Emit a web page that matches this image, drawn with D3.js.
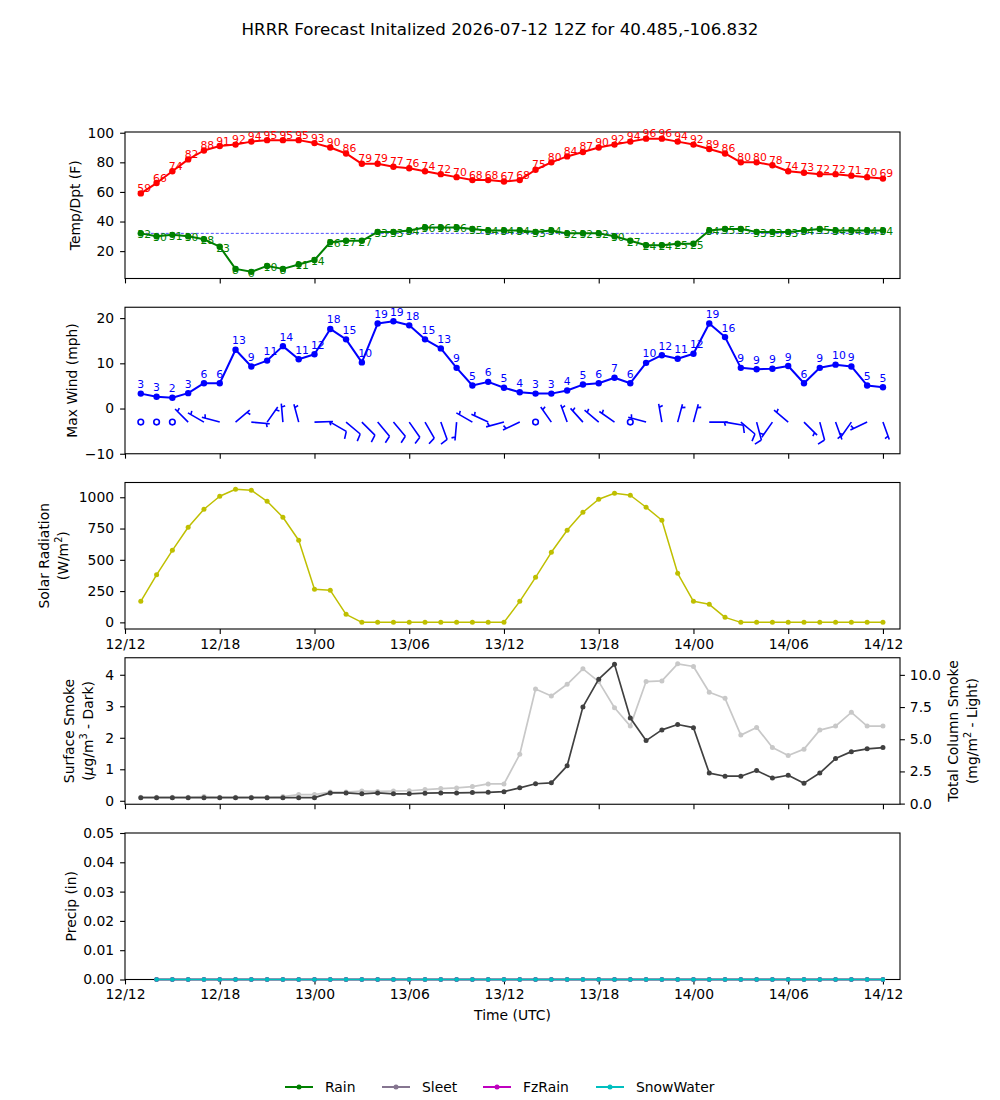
<!DOCTYPE html>
<html>
<head>
<meta charset="utf-8">
<script src="https://cdn.jsdelivr.net/npm/d3@7"></script>
<style>
body { margin: 0; background: #fff; }
svg text { font-family: "DejaVu Sans", sans-serif; }
</style>
</head>
<body>
<div id="chart"></div>
<script>
// forecast init and hourly steps (hours after init)
const initTime = Date.UTC(2026, 6, 12, 12)
const fcstHours = d3.range(1, 49)
const precipHours = d3.range(2, 49)

const temps = [59,66,74,82,88,91,92,94,95,95,95,93,90,86,79,79,77,76,74,72,70,68,68,67,
    68,75,80,84,87,90,92,94,96,96,94,92,89,86,80,80,78,74,73,72,72,71,70,69]
const dewpts = [32,30,31,30,28,23,8,6,10,8,11,14,26,27,27,33,33,34,36,36,36,35,34,
    34,34,33,34,32,32,32,30,27,24,24,25,25,34,35,35,33,33,33,34,35,34,34,34,34]

const maxWind = [3.3,2.6,2.4,3.4,5.6,5.6,13.0,9.3,10.6,13.8,10.9,12.0,17.6,15.3,10.2,18.8,19.3,18.4,15.3,13.3,9.0,5.1,5.9,4.6,
    3.6,3.3,3.3,4.0,5.3,5.6,6.8,5.6,10.1,11.8,11.0,12.1,18.8,15.8,9.0,8.7,8.8,9.4,5.6,9.0,9.7,9.3,5.1,4.7]
// 10 m wind barbs: direction (deg from) and speed (kt)
const barbDir = [0,0,0,315,300,285,50,95,35,355,345,88,120,130,135,140,140,145,150,160,185,300,295,255,
    245,0,325,340,318,310,305,0,285,350,15,15,90,100,130,165,215,310,135,165,160,215,245,160]
const barbSpd = [0,0,0,5,5,5,5,5,5,5,5,5,10,10,10,10,10,10,10,10,5,5,5,5,
    5,0,5,5,5,5,5,0,5,5,5,5,5,10,10,10,5,5,5,10,5,5,5,5]

const solar = [168,380,576,760,904,1008,1064,1056,968,840,656,264,256,64,0,0,0,0,0,0,0,0,0,0,
    168,360,560,736,880,984,1032,1016,920,816,392,168,144,40,0,0,0,0,0,0,0,0,0,0]

const sfcSmoke = [0.1,0.1,0.1,0.1,0.1,0.1,0.1,0.1,0.1,0.1,0.1,0.1,
    0.25,0.25,0.22,0.25,0.22,0.22,0.24,0.25,0.25,0.26,0.27,0.29,
    0.41,0.54,0.57,1.11,2.98,3.86,4.33,2.63,1.91,2.25,2.42,2.32,
    0.88,0.78,0.78,0.96,0.72,0.81,0.56,0.88,1.34,1.56,1.65,1.69]
const colSmoke = [0.5,0.5,0.5,0.5,0.55,0.5,0.5,0.5,0.5,0.55,0.7,0.7,
    0.9,0.9,0.98,0.95,0.98,1.0,1.09,1.17,1.22,1.32,1.53,1.53,
    3.83,8.9,8.36,9.27,10.47,9.48,7.45,6.02,9.48,9.53,10.86,10.65,
    8.65,8.18,5.32,5.92,4.36,3.74,4.23,5.71,6.02,7.09,6.02,6.02]

const rain = [0,0,0,0,0,0,0,0,0,0, 0,0,0,0,0,0,0,0,0,0, 0,0,0,0,0,0,0,0,0,0, 0,0,0,0,0,0,0,0,0,0, 0,0,0,0,0,0,0]
const sleet = [0,0,0,0,0,0,0,0,0,0, 0,0,0,0,0,0,0,0,0,0, 0,0,0,0,0,0,0,0,0,0, 0,0,0,0,0,0,0,0,0,0, 0,0,0,0,0,0,0]
const fzRain = [0,0,0,0,0,0,0,0,0,0, 0,0,0,0,0,0,0,0,0,0, 0,0,0,0,0,0,0,0,0,0, 0,0,0,0,0,0,0,0,0,0, 0,0,0,0,0,0,0]
const snowWater = [0,0,0,0,0,0,0,0,0,0, 0,0,0,0,0,0,0,0,0,0, 0,0,0,0,0,0,0,0,0,0, 0,0,0,0,0,0,0,0,0,0, 0,0,0,0,0,0,0]

const precipSeries = [
    {name: "Rain", values: rain, color: "#008000"},
    {name: "Sleet", values: sleet, color: "#857590"},
    {name: "FzRain", values: fzRain, color: "#bf00bf"},
    {name: "SnowWater", values: snowWater, color: "#00bfbf"}
]

const width = 1000
const height = 1100
const left = 125, right = 900, panelH = 146.5, panelStep = 175.25

const svg = d3.select("#chart").append("svg")
    .attr("width", width)
    .attr("height", height)

const hourMs = 3600e3
const x = d3.scaleUtc()
    .domain([new Date(initTime), new Date(initTime + 49.08 * hourMs)])
    .range([left, right])
const times = fcstHours.map(h => new Date(initTime + h * hourMs))
const precipTimes = precipHours.map(h => new Date(initTime + h * hourMs))

function styleAxis(g) {
    g.select(".domain").remove()
    g.selectAll("text").attr("font-size", 13.9).attr("font-family", "DejaVu Sans").attr("fill", "#000")
    g.selectAll("line").attr("stroke", "#000").attr("stroke-width", 1.1)
}

function makePanel(i, domain, ticks, fmt, showX) {
    const top = 132 + i * panelStep
    const bottom = top + panelH
    const y = d3.scaleLinear().domain(domain).range([bottom, top])
    const g = svg.append("g")
    g.append("g")
        .attr("transform", `translate(${left},0)`)
        .call(d3.axisLeft(y).tickValues(ticks).tickFormat(fmt).tickSize(4.9).tickPadding(6))
        .call(styleAxis)
    g.append("g")
        .attr("transform", `translate(0,${bottom})`)
        .call(d3.axisBottom(x).ticks(d3.utcHour.every(6))
            .tickFormat(showX ? d3.utcFormat("%d/%H") : () => "")
            .tickSize(4.9).tickPadding(4.9))
        .call(styleAxis)
    g.selectAll("text").filter(function() { return this.textContent === "" }).remove()
    g.append("rect")
        .attr("x", left).attr("y", top)
        .attr("width", right - left).attr("height", panelH)
        .attr("fill", "none").attr("stroke", "#000").attr("stroke-width", 1.1)
    return {g, y, top, bottom}
}

// axis title, one or two lines; parts are plain strings or {sup} / {it} pieces
function yTitle(lines, cx, cy) {
    const t = svg.append("text")
        .attr("transform", `translate(${cx},${cy}) rotate(-90)`)
        .attr("text-anchor", "middle")
        .attr("font-size", 13.9)
    lines.forEach((parts, k) => {
        t.append("tspan")
            .attr("x", 0)
            .attr("y", (k - (lines.length - 1) / 2) * 19.5)
            .attr("dy", "0.35em")
            .text(parts[0])
        let back = null
        parts.slice(1).forEach(p => {
            let s
            if (typeof p === "string") {
                s = t.append("tspan").text(p)
            } else if (p.sup !== undefined) {
                s = t.append("tspan").attr("dy", -6).attr("font-size", 9.7).text(p.sup)
            } else {
                s = t.append("tspan").attr("font-style", "italic").text(p.it)
            }
            if (back !== null) s.attr("dy", back)
            back = (typeof p !== "string" && p.sup !== undefined) ? 6 : null
        })
    })
}

function drawSeries(g, data, xs, y, color, lw, r) {
    const line = d3.line().x((d, i) => x(xs[i])).y(d => y(d))
    g.append("path")
        .datum(data)
        .attr("d", line)
        .attr("fill", "none")
        .attr("stroke", color)
        .attr("stroke-width", lw)
        .attr("stroke-linejoin", "round")
    g.append("g").selectAll("circle")
        .data(data)
        .join("circle")
        .attr("cx", (d, i) => x(xs[i]))
        .attr("cy", d => y(d))
        .attr("r", r)
        .attr("fill", color)
}

function drawLabels(g, data, y, color, dy, fmt) {
    g.append("g").selectAll("text")
        .data(data)
        .join("text")
        .attr("x", (d, i) => x(times[i]) - 3.5)
        .attr("y", d => y(d) + dy)
        .attr("font-size", 10.8)
        .attr("fill", color)
        .text(fmt)
}

// title
svg.append("text")
    .attr("x", 500).attr("y", 35)
    .attr("text-anchor", "middle")
    .attr("font-size", 16.7)
    .text("HRRR Forecast Initalized 2026-07-12 12Z for 40.485,-106.832")

// temperature / dewpoint
const p1 = makePanel(0, [1.5, 100.5], [20, 40, 60, 80, 100], d3.format("d"), false)
p1.g.append("line")
    .attr("x1", x(times[0])).attr("x2", x(times[times.length - 1]))
    .attr("y1", p1.y(32)).attr("y2", p1.y(32))
    .attr("stroke", "#0000ff").attr("stroke-width", 0.7)
    .attr("stroke-dasharray", "3,2")
drawSeries(p1.g, temps, times, p1.y, "#ff0000", 2, 3.2)
drawSeries(p1.g, dewpts, times, p1.y, "#008000", 2, 3.2)
drawLabels(p1.g, temps, p1.y, "#ff0000", -1.5, d => d)
drawLabels(p1.g, dewpts, p1.y, "#008000", 5, d => d)
yTitle([["Temp/Dpt (F)"]], 75, p1.top + panelH / 2)

// max wind + barbs
const p2 = makePanel(1, [-10, 22.4], [-10, 0, 10, 20], d3.format("d"), false)
drawSeries(p2.g, maxWind, times, p2.y, "#0000ff", 2, 3.2)
drawLabels(p2.g, maxWind, p2.y, "#0000ff", -5.5, d => Math.round(d))
yTitle([["Max Wind (mph)"]], 72.5, p2.top + panelH / 2)

function barbPath(sx, sy, dir, spd) {
    const L = 18.5, fh = 0.4 * L, fw = 0.25 * L, sp = 0.125 * L
    const t = dir * Math.PI / 180
    const ly = [Math.sin(t), -Math.cos(t)]
    const lx = [Math.cos(t), Math.sin(t)]
    const pt = (a, b) => [sx + a * lx[0] + b * ly[0], sy + a * lx[1] + b * ly[1]]
    const r = Math.round(spd / 5) * 5
    const nb = Math.floor(r / 10)
    const half = r % 10 >= 5
    const p = d3.path()
    p.moveTo(sx, sy)
    p.lineTo(...pt(0, L))
    let off = L
    for (let k = 0; k < nb; k++) {
        p.moveTo(...pt(0, off))
        p.lineTo(...pt(fh, off + fw / 2))
        off -= sp
    }
    if (half) {
        if (off === L) off -= 1.5 * sp
        p.moveTo(...pt(0, off))
        p.lineTo(...pt(fh / 2, off + fw / 4))
    }
    return p.toString()
}

const barbData = barbDir.map((d, i) => ({t: times[i], dir: d, spd: barbSpd[i]}))
p2.g.append("g").selectAll("circle")
    .data(barbData.filter(d => d.spd < 2.5))
    .join("circle")
    .attr("cx", d => x(d.t)).attr("cy", p2.y(-3))
    .attr("r", 2.8)
    .attr("fill", "none").attr("stroke", "#0000ff").attr("stroke-width", 1.6)
p2.g.append("g").selectAll("path")
    .data(barbData.filter(d => d.spd >= 2.5))
    .join("path")
    .attr("d", d => barbPath(x(d.t), p2.y(-3), d.dir, d.spd))
    .attr("fill", "none").attr("stroke", "#0000ff").attr("stroke-width", 1.6)

// solar radiation
const p3 = makePanel(2, [-53, 1118], [0, 250, 500, 750, 1000], d3.format("d"), true)
drawSeries(p3.g, solar, times, p3.y, "#bfbf00", 1.5, 2.5)
yTitle([["Solar Radiation"], ["(W/m", {sup: "2"}, ")"]], 53.5, p3.top + panelH / 2)

// smoke
const p4 = makePanel(3, [-0.11, 4.54], [0, 1, 2, 3, 4], d3.format("d"), false)
const yRight = d3.scaleLinear().domain([-0.05, 11.33]).range([p4.bottom, p4.top])
p4.g.append("g")
    .attr("transform", `translate(${right},0)`)
    .call(d3.axisRight(yRight).tickValues([0, 2.5, 5, 7.5, 10]).tickFormat(d3.format(".1f")).tickSize(4.9).tickPadding(4.9))
    .call(styleAxis)
drawSeries(p4.g, colSmoke, times, yRight, "#c8c8c8", 1.7, 2.5)
drawSeries(p4.g, sfcSmoke, times, p4.y, "#404040", 1.7, 2.5)
yTitle([["Surface Smoke"], ["(", {it: "μ"}, "g/m", {sup: "3"}, " - Dark)"]], 78.5, p4.top + panelH / 2)
yTitle([["Total Column Smoke"], ["(mg/m", {sup: "2"}, " - Light)"]], 962.5, p4.top + panelH / 2)

// precip
const p5 = makePanel(4, [0, 0.05], [0, 0.01, 0.02, 0.03, 0.04, 0.05], d3.format(".2f"), true)
precipSeries.forEach(s => drawSeries(p5.g, s.values, precipTimes, p5.y, s.color, 1.5, 2.3))
yTitle([["Precip (in)"]], 71.5, p5.top + panelH / 2)

svg.append("text")
    .attr("x", (left + right) / 2).attr("y", 1020)
    .attr("text-anchor", "middle")
    .attr("font-size", 13.9)
    .text("Time (UTC)")

// legend
const legendX = [285, 382, 483, 596]
const legend = svg.append("g")
    .selectAll("g")
    .data(precipSeries)
    .join("g")
    .attr("transform", (d, i) => `translate(${legendX[i]},1087)`)
legend.append("line")
    .attr("x1", 0).attr("x2", 28)
    .attr("stroke", d => d.color).attr("stroke-width", 2)
legend.append("circle")
    .attr("cx", 14).attr("r", 2.5)
    .attr("fill", d => d.color)
legend.append("text")
    .attr("x", 40).attr("y", 5)
    .attr("font-size", 13.9)
    .text(d => d.name)
</script>
</body>
</html>
